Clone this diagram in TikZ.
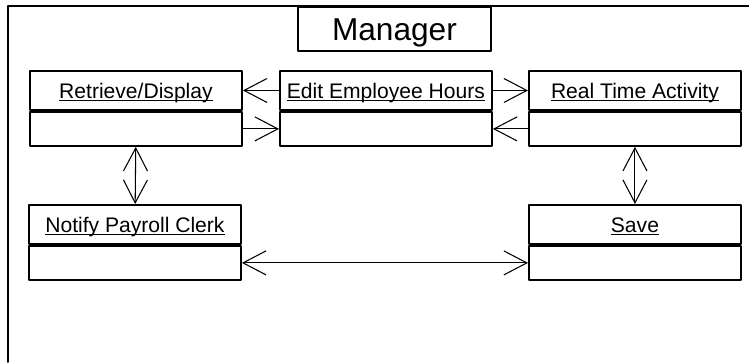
\documentclass[tikz,border=0pt]{standalone}
\usepackage{fontspec}
\setmainfont{Liberation Sans}
\usetikzlibrary{positioning,arrows.meta}

\newcommand{\clsname}[1]{\underline{\smash{#1}}}

\begin{document}
\begin{tikzpicture}[x=0.02cm, y=-0.02cm, line cap=round, line join=round,
	>={Straight Barb[length=0.46cm,width=0.48cm]},
	head/.style={draw, line width=1.1pt, minimum width=4.24cm, minimum height=0.78cm, inner sep=0pt, text height=8.6pt, text depth=0pt, anchor=north west, font=\fontsize{12}{14}\selectfont},
	body/.style={draw, line width=1.1pt, minimum width=4.24cm, minimum height=0.68cm, inner sep=0pt, below=0pt of #1},
	link/.style={line width=0.6pt}]
	\useasboundingbox (0,0) rectangle (749,362);

	%Frame
	\draw[line width=1.1pt] (8,362) -- (8,6) -- (749,6);
	\node[draw, line width=1.1pt, minimum width=3.86cm, minimum height=0.88cm, inner sep=0pt, text height=12.9pt, text depth=0pt, anchor=north west, font=\fontsize{18}{21}\selectfont] (manager) at (297,6) {Manager};

	%Classes
	\node[head] (retrieve) at (29,70) {\clsname{Retrieve/Display}};
	\node[body=retrieve] (retrieveB) {};
	\node[head] (edit) at (279,70) {\clsname{Edit Employee Hours}};
	\node[body=edit] (editB) {};
	\node[head] (activity) at (528,70) {\clsname{Real Time Activity}};
	\node[body=activity] (activityB) {};
	\node[head] (notify) at (28,204) {\clsname{Notify Payroll Clerk}};
	\node[body=notify] (notifyB) {};
	\node[head] (save) at (528,204) {\clsname{Save}};
	\node[body=save] (saveB) {};

	%Links
	\draw[link, ->] (edit) -- (retrieve);
	\draw[link, ->] (retrieveB) -- (editB);
	\draw[link, ->] (edit) -- (activity);
	\draw[link, ->] (activityB) -- (editB);
	\draw[link, <->] (retrieveB) -- (notify);
	\draw[link, <->] (activityB) -- (save);
	\draw[link, <->] (notifyB) -- (saveB);
\end{tikzpicture}
\end{document}
